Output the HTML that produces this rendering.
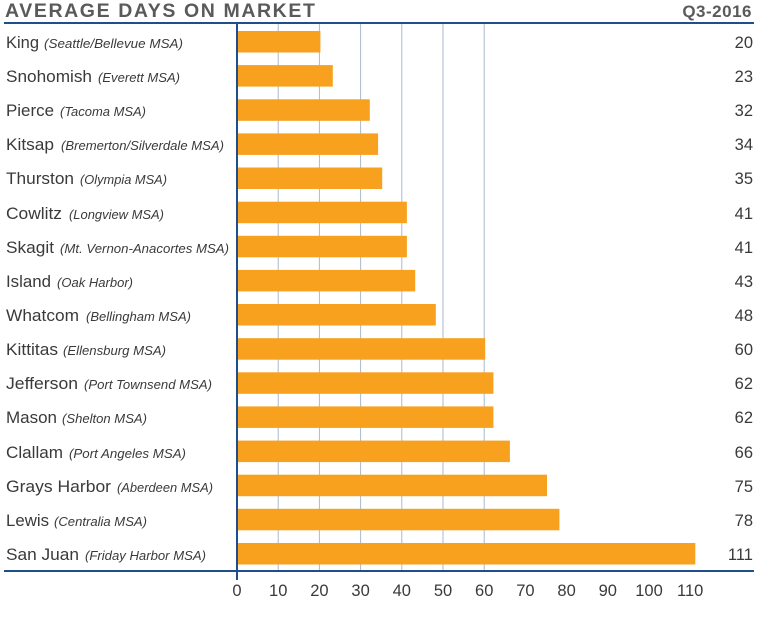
<!DOCTYPE html>
<html><head><style>
body{margin:0;background:#fff;}
svg text{font-family:"Liberation Sans",sans-serif;}
</style></head><body>
<svg width="760" height="613" xmlns="http://www.w3.org/2000/svg">
<text x="5" y="17" font-size="19.5" font-weight="bold" fill="#5a5a5a" letter-spacing="1.6">AVERAGE DAYS ON MARKET</text>
<text x="752" y="17" font-size="17" font-weight="bold" fill="#5a5a5a" text-anchor="end" letter-spacing="0.5">Q3-2016</text>
<line x1="4" y1="23" x2="754" y2="23" stroke="#1f4e8c" stroke-width="2"/>
<g stroke="#a9bad0" stroke-width="1">
<line x1="278.2" y1="24" x2="278.2" y2="570"/>
<line x1="319.4" y1="24" x2="319.4" y2="570"/>
<line x1="360.6" y1="24" x2="360.6" y2="570"/>
<line x1="401.8" y1="24" x2="401.8" y2="570"/>
<line x1="443" y1="24" x2="443" y2="570"/>
<line x1="484.2" y1="24" x2="484.2" y2="570"/>
</g>
<g fill="#f7a11f">
<rect x="238" y="31" width="82.4" height="21.5"/>
<rect x="238" y="65.1" width="94.8" height="21.5"/>
<rect x="238" y="99.3" width="131.8" height="21.5"/>
<rect x="238" y="133.4" width="140.1" height="21.5"/>
<rect x="238" y="167.5" width="144.2" height="21.5"/>
<rect x="238" y="201.7" width="168.9" height="21.5"/>
<rect x="238" y="235.8" width="168.9" height="21.5"/>
<rect x="238" y="269.9" width="177.2" height="21.5"/>
<rect x="238" y="304" width="197.8" height="21.5"/>
<rect x="238" y="338.2" width="247.2" height="21.5"/>
<rect x="238" y="372.3" width="255.4" height="21.5"/>
<rect x="238" y="406.4" width="255.4" height="21.5"/>
<rect x="238" y="440.6" width="271.9" height="21.5"/>
<rect x="238" y="474.7" width="309" height="21.5"/>
<rect x="238" y="508.8" width="321.4" height="21.5"/>
<rect x="238" y="543" width="457.3" height="21.5"/>
</g>
<line x1="237" y1="23" x2="237" y2="580" stroke="#1f4e8c" stroke-width="2"/>
<line x1="4" y1="571" x2="754" y2="571" stroke="#1f4e8c" stroke-width="2"/>
<g font-size="17" fill="#3a3a3a">
<text x="6" y="48" textLength="33" lengthAdjust="spacingAndGlyphs">King</text>
<text x="6" y="82" textLength="86" lengthAdjust="spacingAndGlyphs">Snohomish</text>
<text x="6" y="116" textLength="48" lengthAdjust="spacingAndGlyphs">Pierce</text>
<text x="6" y="150" textLength="48" lengthAdjust="spacingAndGlyphs">Kitsap</text>
<text x="6" y="184" textLength="68" lengthAdjust="spacingAndGlyphs">Thurston</text>
<text x="6" y="219" textLength="56" lengthAdjust="spacingAndGlyphs">Cowlitz</text>
<text x="6" y="253" textLength="48" lengthAdjust="spacingAndGlyphs">Skagit</text>
<text x="6" y="287" textLength="45" lengthAdjust="spacingAndGlyphs">Island</text>
<text x="6" y="321" textLength="73" lengthAdjust="spacingAndGlyphs">Whatcom</text>
<text x="6" y="355" textLength="52" lengthAdjust="spacingAndGlyphs">Kittitas</text>
<text x="6" y="389" textLength="72" lengthAdjust="spacingAndGlyphs">Jefferson</text>
<text x="6" y="423" textLength="51" lengthAdjust="spacingAndGlyphs">Mason</text>
<text x="6" y="458" textLength="57" lengthAdjust="spacingAndGlyphs">Clallam</text>
<text x="6" y="492" textLength="105" lengthAdjust="spacingAndGlyphs">Grays Harbor</text>
<text x="6" y="526" textLength="43" lengthAdjust="spacingAndGlyphs">Lewis</text>
<text x="6" y="560" textLength="73" lengthAdjust="spacingAndGlyphs">San Juan</text>
</g>
<g font-size="13" font-style="italic" fill="#3a3a3a">
<text x="44" y="48" textLength="139" lengthAdjust="spacingAndGlyphs">(Seattle/Bellevue MSA)</text>
<text x="98" y="82" textLength="82" lengthAdjust="spacingAndGlyphs">(Everett MSA)</text>
<text x="60" y="116" textLength="86" lengthAdjust="spacingAndGlyphs">(Tacoma MSA)</text>
<text x="61" y="150" textLength="163" lengthAdjust="spacingAndGlyphs">(Bremerton/Silverdale MSA)</text>
<text x="80" y="184" textLength="87" lengthAdjust="spacingAndGlyphs">(Olympia MSA)</text>
<text x="69" y="219" textLength="95" lengthAdjust="spacingAndGlyphs">(Longview MSA)</text>
<text x="60" y="253" textLength="169" lengthAdjust="spacingAndGlyphs">(Mt. Vernon-Anacortes MSA)</text>
<text x="57" y="287" textLength="76" lengthAdjust="spacingAndGlyphs">(Oak Harbor)</text>
<text x="86" y="321" textLength="105" lengthAdjust="spacingAndGlyphs">(Bellingham MSA)</text>
<text x="63" y="355" textLength="103" lengthAdjust="spacingAndGlyphs">(Ellensburg MSA)</text>
<text x="84" y="389" textLength="128" lengthAdjust="spacingAndGlyphs">(Port Townsend MSA)</text>
<text x="62" y="423" textLength="85" lengthAdjust="spacingAndGlyphs">(Shelton MSA)</text>
<text x="69" y="458" textLength="117" lengthAdjust="spacingAndGlyphs">(Port Angeles MSA)</text>
<text x="117" y="492" textLength="96" lengthAdjust="spacingAndGlyphs">(Aberdeen MSA)</text>
<text x="54" y="526" textLength="93" lengthAdjust="spacingAndGlyphs">(Centralia MSA)</text>
<text x="85" y="560" textLength="121" lengthAdjust="spacingAndGlyphs">(Friday Harbor MSA)</text>
</g>
<g font-size="16.5" fill="#3a3a3a" text-anchor="end">
<text x="753" y="48">20</text><text x="753" y="82">23</text><text x="753" y="116">32</text><text x="753" y="150">34</text>
<text x="753" y="184">35</text><text x="753" y="219">41</text><text x="753" y="253">41</text><text x="753" y="287">43</text>
<text x="753" y="321">48</text><text x="753" y="355">60</text><text x="753" y="389">62</text><text x="753" y="423">62</text>
<text x="753" y="458">66</text><text x="753" y="492">75</text><text x="753" y="526">78</text><text x="753" y="560">111</text>
</g>
<g font-size="16.5" fill="#3a3a3a" text-anchor="middle">
<text x="237" y="596">0</text><text x="278.2" y="596">10</text><text x="319.4" y="596">20</text><text x="360.6" y="596">30</text>
<text x="401.8" y="596">40</text><text x="443" y="596">50</text><text x="484.2" y="596">60</text><text x="525.4" y="596">70</text>
<text x="566.6" y="596">80</text><text x="607.8" y="596">90</text><text x="649" y="596">100</text><text x="690.2" y="596">110</text>
</g>
</svg>
</body></html>
